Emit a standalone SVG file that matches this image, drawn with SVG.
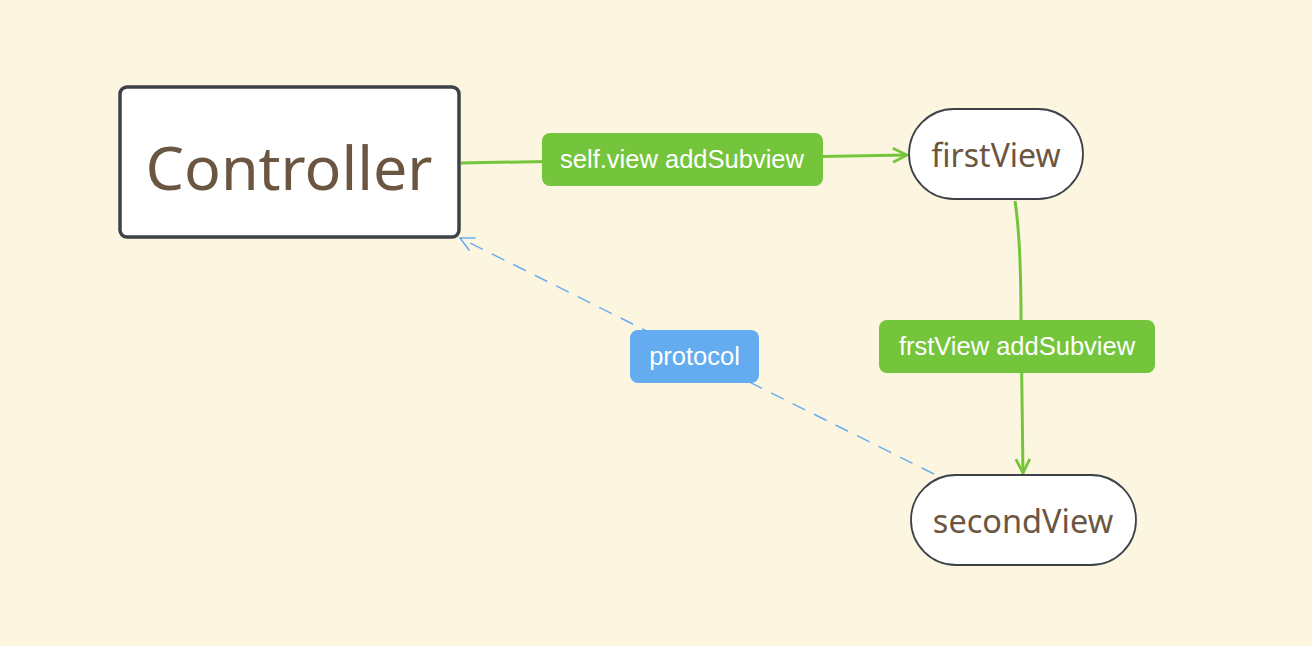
<svg xmlns="http://www.w3.org/2000/svg" width="1312" height="646" viewBox="0 0 1312 646">
<defs>
<style>
.node{fill:#ffffff;stroke:#3c4248}
.ntext{font-family:"Noto Sans","Open Sans",sans-serif;fill:#6b5642;text-anchor:middle}
.elabel{font-family:"Liberation Sans",Arial,sans-serif;font-size:25.5px;fill:#ffffff;text-anchor:middle}
.green{fill:none;stroke:#74c53c;stroke-width:3}
.blue{fill:none;stroke:#6aaeef;stroke-width:1.5;stroke-dasharray:14 10}
</style>
<marker id="ag" viewBox="0 0 18 18" refX="16" refY="9" markerWidth="18" markerHeight="18" markerUnits="userSpaceOnUse" orient="auto">
<path d="M2,2 L16,9 L2,16" fill="none" stroke="#74c53c" stroke-width="2.8"/>
</marker>
<marker id="ab" viewBox="0 0 18 18" refX="16" refY="9" markerWidth="18" markerHeight="18" markerUnits="userSpaceOnUse" orient="auto">
<path d="M2,2 L16,9 L2,16" fill="none" stroke="#6aaeef" stroke-width="1.6"/>
</marker>
</defs>
<rect width="1312" height="646" fill="#fcf5e0"/>
<g id="connectors">
<path class="green" d="M461,163 L907,155" marker-end="url(#ag)"/>
<path class="green" d="M1015,201 Q1021,240 1021,320 L1023,473" marker-end="url(#ag)"/>
<path class="blue" d="M934,474 L460,238" marker-end="url(#ab)"/>
<g id="label-self">
<rect x="542" y="133" width="281" height="53" rx="8" fill="#74c53c"/>
<text class="elabel" x="682" y="168">self.view addSubview</text>
</g>
<g id="label-frst">
<rect x="879" y="320" width="276" height="53" rx="8" fill="#74c53c"/>
<text class="elabel" x="1017" y="355">frstView addSubview</text>
</g>
<g id="label-protocol">
<rect x="630" y="330" width="129" height="53" rx="8" fill="#64acef"/>
<text class="elabel" x="694.5" y="365">protocol</text>
</g>
</g>
<g id="controller">
<rect class="node" x="120" y="87" width="339" height="150" rx="7" stroke-width="3.5"/>
<text class="ntext" x="289" y="190" font-size="61">Controller</text>
</g>
<g id="firstView">
<rect class="node" x="909" y="109" width="174" height="90" rx="45" stroke-width="1.8"/>
<text class="ntext" x="996" y="167" font-size="32">firstView</text>
</g>
<g id="secondView">
<rect class="node" x="911" y="475" width="225" height="90" rx="45" stroke-width="1.8"/>
<text class="ntext" x="1023" y="533" font-size="32.5">secondView</text>
</g>
</svg>
